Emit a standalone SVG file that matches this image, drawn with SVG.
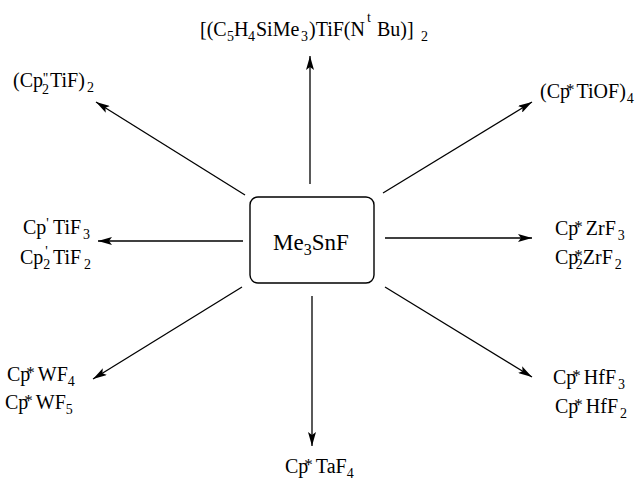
<svg xmlns="http://www.w3.org/2000/svg" width="636" height="481" viewBox="0 0 636 481">
<style>
  text { font-family: "Liberation Serif", "Times New Roman", serif; font-size: 20px; fill: #000; }
  .sub { font-size: 14px; }
  .ast { font-size: 17px; }
  .box { fill: #fff; stroke: #000; stroke-width: 1.4; }
  .conn line { stroke: #000; stroke-width: 1.3; marker-end: url(#ah); }
</style>
<defs>
  <marker id="ah" viewBox="0 0 14 8" refX="14" refY="4" markerWidth="14" markerHeight="8" markerUnits="userSpaceOnUse" orient="auto">
    <path d="M0,0 L14,4 L0,8 L3,4 z" fill="#000"/>
  </marker>
</defs>

<rect width="636" height="481" fill="#fff"/>

<!-- connectors radiating from the reagent -->
<g id="connectors" class="conn">
  <line x1="310" y1="184" x2="310" y2="56"/>
  <line x1="312" y1="296" x2="312" y2="446"/>
  <line x1="243" y1="241" x2="98" y2="241"/>
  <line x1="385" y1="238" x2="532" y2="238"/>
  <line x1="245" y1="195" x2="96" y2="102"/>
  <line x1="383" y1="193" x2="532" y2="102"/>
  <line x1="242" y1="287" x2="93" y2="379"/>
  <line x1="385" y1="287" x2="532" y2="377"/>
</g>

<!-- central reagent -->
<g id="me3snf">
  <rect class="box" x="250" y="197" width="124" height="86" rx="8"/>
  <text x="273" y="250" style="font-size:23px">Me<tspan style="font-size:16px" dy="5">3</tspan><tspan dy="-5">SnF</tspan></text>
</g>

<g id="top">
  <text y="36"><tspan x="200">[(C</tspan><tspan class="sub" x="227" dy="5">5</tspan><tspan x="234" dy="-5">H</tspan><tspan class="sub" x="248" dy="5">4</tspan><tspan x="256" dy="-5">SiMe</tspan><tspan class="sub" x="301" dy="5">3</tspan><tspan x="309" dy="-5">)TiF(N</tspan><tspan class="sub" x="367" dy="-14">t</tspan><tspan x="377" dy="14">Bu)]</tspan><tspan class="sub" x="421" dy="5">2</tspan></text>
</g>

<g id="cp2tif-dimer">
  <text x="13" y="87">(Cp<tspan class="sub" dy="-4">''</tspan><tspan class="sub" dx="-6" dy="11">2</tspan><tspan dx="1" dy="-7">TiF)</tspan><tspan class="sub" dx="2" dy="5">2</tspan></text>
</g>

<g id="cptiof">
  <text x="540" y="98">(Cp<tspan class="ast" dx="-4" dy="-3">*</tspan><tspan dx="2" dy="3">TiOF)</tspan><tspan class="sub" dx="1" dy="5">4</tspan></text>
</g>

<g id="cptif">
  <text x="23" y="234">Cp<tspan class="sub" dy="-6">'</tspan><tspan dx="4" dy="6">TiF</tspan><tspan class="sub" dx="2" dy="5">3</tspan></text>
  <text x="20" y="264">Cp<tspan class="sub" dy="5">2</tspan><tspan class="sub" dx="-5" dy="-13">'</tspan><tspan dx="5" dy="8">TiF</tspan><tspan class="sub" dx="3" dy="5">2</tspan></text>
</g>

<g id="cpzrf">
  <text x="555" y="235">Cp<tspan class="ast" dx="-4" dy="-3">*</tspan><tspan dx="3" dy="3">ZrF</tspan><tspan class="sub" dx="2" dy="5">3</tspan></text>
  <text x="555" y="264">Cp<tspan class="ast" dx="-4" dy="-3">*</tspan><tspan class="sub" dx="-7" dy="8">2</tspan><tspan dy="-5">ZrF</tspan><tspan class="sub" dx="2" dy="5">2</tspan></text>
</g>

<g id="cpwf">
  <text x="7" y="381">Cp<tspan class="ast" dx="-4" dy="-3">*</tspan><tspan dx="3" dy="3">WF</tspan><tspan class="sub" dy="5">4</tspan></text>
  <text x="5" y="409">Cp<tspan class="ast" dx="-4" dy="-3">*</tspan><tspan dx="3" dy="3">WF</tspan><tspan class="sub" dy="5">5</tspan></text>
</g>

<g id="cphff">
  <text x="553" y="384">Cp<tspan class="ast" dx="-4" dy="-3">*</tspan><tspan dx="3" dy="3">HfF</tspan><tspan class="sub" dx="2" dy="5">3</tspan></text>
  <text x="555" y="413">Cp<tspan class="ast" dx="-4" dy="-3">*</tspan><tspan dx="3" dy="3">HfF</tspan><tspan class="sub" dx="2" dy="5">2</tspan></text>
</g>

<g id="cptaf">
  <text x="285" y="473">Cp<tspan class="ast" dx="-4" dy="-3">*</tspan><tspan dx="3" dy="3">TaF</tspan><tspan class="sub" dy="5">4</tspan></text>
</g>
</svg>
